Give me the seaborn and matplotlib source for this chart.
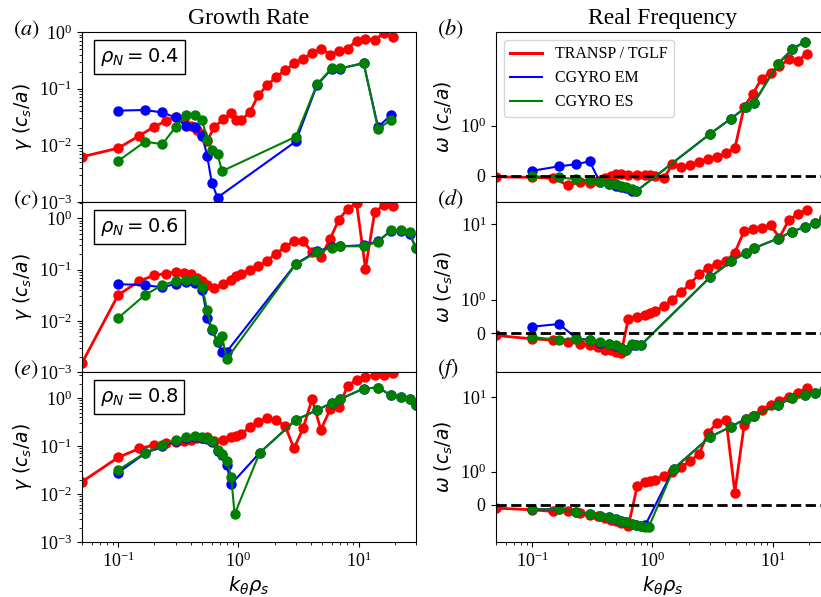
"""
Growth rate / real frequency spectra: TRANSP-TGLF vs CGYRO (EM, ES)
at three radii, rho_N = 0.4, 0.6, 0.8.
"""
import numpy as np
import matplotlib
matplotlib.use("Agg")
import matplotlib.pyplot as plt
from matplotlib.lines import Line2D
from matplotlib.ticker import NullLocator, FixedLocator
import seaborn as sns

nan = np.nan

# ---- wavenumber grids ----
K_TGLF = [0.05, 0.1, 0.15, 0.2, 0.25, 0.3, 0.35, 0.4, 0.45, 0.5, 0.55,
          0.63, 0.75, 0.87, 0.96, 1.06, 1.25, 1.46, 1.73, 2.05, 2.45, 2.9,
          3.45, 4.1, 4.85, 5.8, 6.85, 8.1, 9.6, 11.4, 13.6, 16.1, 19.2]
K_CG_04 = [0.1, 0.167, 0.233, 0.3, 0.367, 0.433, 0.5, 0.55, 0.6, 0.67, 0.73,
           3.0, 4.5, 6.0, 7.0, 11.0, 14.5, 18.5]
K_CG_06 = [0.1, 0.167, 0.233, 0.3, 0.367, 0.433, 0.5, 0.55, 0.6, 0.67, 0.73, 0.8,
           3.0, 4.5, 6.0, 7.0, 11.0, 14.5, 18.5, 22.5, 26.5, 30.0]
K_CG_08 = [0.1, 0.167, 0.233, 0.3, 0.367, 0.433, 0.5, 0.55, 0.6, 0.67, 0.73, 0.8,
           0.87, 0.93, 1.5, 3.0, 4.5, 6.0, 7.0, 11.0, 14.5, 18.5, 22.5, 26.5, 30.0]

# ---- rho_N = 0.4 ----
gam_tglf_04 = [0.0063, 0.0089, 0.0148, 0.0214, 0.027, 0.032, 0.029, 0.022, 0.019, 0.016, 0.012,
               0.021, 0.029, 0.037, 0.028, 0.028, 0.039, 0.076, 0.114, 0.16, 0.21, 0.28,
               0.34, 0.42, 0.51, 0.40, 0.46, 0.51, 0.70, 0.74, 0.72, 0.95, 0.83]
om_tglf_04 = [-0.02, -0.03, -0.05, -0.19, -0.12, -0.15, -0.1, -0.04, 0.0, 0.04, 0.03,
              0.02, 0.02, 0.02, 0.01, 0.0, -0.05, 0.23, 0.18, 0.21, 0.27, 0.33,
              0.38, 0.45, 0.55, 1.47, 1.91, 2.6, 2.92, 3.35, 3.84, 3.73, 4.28]
gam_em_04 = [0.041, 0.042, 0.038, 0.031, 0.022, 0.021, 0.0148, 0.0065, 0.0022, 0.0012, nan,
             0.0117, 0.115, 0.226, 0.226, 0.28, 0.021, 0.034]
gam_es_04 = [0.0053, 0.0116, 0.0105, 0.021, 0.034, 0.035, 0.028, 0.0124, 0.0083, 0.007, 0.0035,
             0.0142, 0.119, 0.232, 0.227, 0.285, 0.0195, 0.028]
om_em_04 = [0.1, 0.19, 0.23, 0.29, -0.13, -0.17, -0.2, -0.22, -0.25, -0.3, -0.31,
            0.83, 1.15, 1.45, 1.58, 3.48, 4.71, 5.5]
om_es_04 = [-0.01, -0.03, -0.07, -0.09, -0.13, -0.16, -0.17, -0.2, -0.23, -0.27, -0.31,
            0.83, 1.15, 1.45, 1.58, 3.48, 4.71, 5.5]

# ---- rho_N = 0.6 ----
gam_tglf_06 = [0.0015, 0.032, 0.06, 0.078, 0.084, 0.09, 0.087, 0.084, 0.07, 0.06, 0.051,
               0.043, 0.053, 0.064, 0.074, 0.084, 0.10, 0.116, 0.148, 0.205, 0.276, 0.363,
               0.363, 0.22, 0.177, 0.4, 0.95, 1.55, 2.0, 0.105, 1.33, 1.8, 1.72]
om_tglf_06 = [-0.06, -0.16, -0.2, -0.26, -0.3, -0.35, -0.4, -0.48, -0.5, -0.55, -0.57,
              0.43, 0.5, 0.56, 0.6, 0.66, 0.82, 1.0, 1.25, 1.61, 2.18, 2.61,
              3.0, 3.26, 4.2, 8.1, 8.5, 8.8, 9.7, 6.6, 11.2, 13.4, 15.5]
gam_em_06 = [0.052, 0.05, 0.045, 0.053, 0.057, 0.055, 0.04, 0.0116, 0.0066, 0.0039, 0.0025, 0.0025,
             0.13, 0.23, 0.276, 0.286, 0.3, 0.36, 0.57, 0.57, 0.5, 0.26]
gam_es_06 = [0.0114, 0.032, 0.05, 0.06, 0.064, 0.062, 0.046, 0.016, 0.0068, 0.0041, 0.005, 0.0018,
             0.127, 0.22, 0.27, 0.286, 0.286, 0.35, 0.59, 0.6, 0.54, 0.26]
om_em_06 = [0.2, 0.28, -0.14, -0.2, -0.27, -0.31, -0.36, -0.42, -0.48, -0.33, -0.34, -0.35,
            1.97, 3.2, 4.2, 4.8, 6.4, 7.9, 9.2, 10.4, 12.0, 13.0]
om_es_06 = [-0.11, -0.19, -0.16, -0.19, -0.26, -0.3, -0.35, -0.42, -0.5, -0.32, -0.34, -0.35,
            1.97, 3.2, 4.2, 4.8, 6.4, 7.9, 9.2, 10.4, 12.0, 13.0]

# ---- rho_N = 0.8 ----
gam_tglf_08 = [0.018, 0.058, 0.089, 0.105, 0.115, 0.123, 0.13, 0.133, 0.145, 0.15, 0.156,
               0.126, 0.133, 0.152, 0.165, 0.18, 0.25, 0.32, 0.38, 0.35, 0.26, 0.089,
               0.234, 0.95, 0.22, 0.58, 0.66, 1.8, 2.4, 2.75, 3.0, 3.1, 3.3]
om_tglf_08 = [-0.1, -0.15, -0.2, -0.19, -0.25, -0.3, -0.35, -0.4, -0.45, -0.5, -0.55,
              -0.64, 0.58, 0.68, 0.72, 0.76, 0.86, 1.0, 1.16, 1.37, 1.74, 3.28,
              4.5, 4.93, 0.37, 4.23, 5.58, 6.7, 7.8, 8.9, 10.1, 11.4, 13.1]
gam_em_08 = [0.028, 0.07, 0.1, 0.128, 0.145, 0.155, 0.15, 0.14, 0.12, 0.08, 0.064, 0.04,
             0.016, nan, 0.072, 0.35, 0.56, 0.8, 0.95, 1.58, 1.66, 1.15, 1.07, 0.98, 0.72]
gam_es_08 = [0.0316, 0.072, 0.105, 0.133, 0.152, 0.162, 0.157, 0.145, 0.126, 0.083, 0.068, 0.049,
             0.023, 0.0038, 0.072, 0.35, 0.56, 0.8, 0.95, 1.58, 1.66, 1.15, 1.07, 0.98, 0.72]
om_em_08 = [-0.13, -0.14, -0.23, -0.27, -0.33, -0.37, -0.43, -0.48, -0.53, -0.57, -0.6, -0.64,
            -0.62, nan, 1.09, 2.9, 4.0, 5.1, 5.58, 7.8, 9.6, 10.6, 11.2, 12.2, 13.0]
om_es_08 = [-0.13, -0.14, -0.23, -0.27, -0.33, -0.37, -0.43, -0.48, -0.53, -0.57, -0.6, -0.64,
            -0.66, -0.68, 1.09, 2.9, 4.0, 5.1, 5.58, 7.8, 9.6, 10.6, 11.2, 12.2, 13.0]

RHO = ["0.4", "0.6", "0.8"]
GAM_YTOP = [1.0, 2.1, 3.5]
OM_YLIM = [(-0.52, 6.7), (-1.16, 19.5), (-1.13, 21.5)]
OM_TICKS = [0, 1, 10]
LETTERS = [("a", "b"), ("c", "d"), ("e", "f")]

ROWS = [
    (K_CG_04, gam_tglf_04, om_tglf_04, gam_em_04, gam_es_04, om_em_04, om_es_04),
    (K_CG_06, gam_tglf_06, om_tglf_06, gam_em_06, gam_es_06, om_em_06, om_es_06),
    (K_CG_08, gam_tglf_08, om_tglf_08, gam_em_08, gam_es_08, om_em_08, om_es_08),
]

RED, BLUE, GREEN = "#ff0000", "#0000ff", "#008000"


def draw(ax, k, v, color, lw):
    k = np.asarray(k, float)
    v = np.asarray(v, float)
    ok = np.isfinite(v)
    sns.lineplot(x=k[ok], y=v[ok], ax=ax, color=color, lw=lw, marker="o",
                 markersize=7.5, markeredgewidth=0, sort=False, estimator=None)


def main():
    plt.rcParams["font.family"] = "serif"
    plt.rcParams["font.serif"] = ["Liberation Serif", "DejaVu Serif"]
    plt.rcParams["mathtext.fontset"] = "dejavusans"

    W, H = 821, 597
    fig = plt.figure(figsize=(W / 100, H / 100), dpi=100)

    axes = []
    ref = None
    for r in range(3):
        top = 32 + 170 * r
        y0 = 1 - (top + 170) / H
        aL = fig.add_axes([82 / W, y0, 334 / W, 170 / H], sharex=ref)
        ref = aL
        aR = fig.add_axes([496 / W, y0, 334 / W, 170 / H], sharex=ref)
        axes.append((aL, aR))

    for r, (aL, aR) in enumerate(axes):
        kcg, g_t, o_t, g_em, g_es, o_em, o_es = ROWS[r]

        draw(aL, K_TGLF, g_t, RED, 2.0)
        draw(aL, kcg, g_em, BLUE, 1.5)
        draw(aL, kcg, g_es, GREEN, 1.5)

        draw(aR, K_TGLF, o_t, RED, 2.0)
        draw(aR, kcg, o_em, BLUE, 1.5)
        draw(aR, kcg, o_es, GREEN, 1.5)
        aR.axhline(0, color="k", ls="--", lw=2)

        aL.set_xscale("log")
        aL.set_yscale("log")
        aL.set_ylim(1e-3, GAM_YTOP[r])
        aR.set_yscale("symlog", linthresh=1, linscale=0.4)
        aR.yaxis.set_major_locator(FixedLocator(OM_TICKS))
        aR.yaxis.set_minor_locator(NullLocator())
        aR.set_ylim(*OM_YLIM[r])

        aL.set_ylabel(r"$\gamma\ (c_s/a)$", fontsize=13.5)
        aR.set_ylabel(r"$\omega\ (c_s/a)$", fontsize=13.5)
        for a in (aL, aR):
            a.set_xlabel("")
            a.tick_params(labelsize=13)

        aL.text(0.054, 0.853, r"$\rho_N = %s$" % RHO[r], transform=aL.transAxes,
                fontsize=14, va="center", ha="left",
                bbox=dict(boxstyle="square,pad=0.3", fc="white", ec="black", lw=1))

        la, lb = LETTERS[r]
        aL.text(-0.207, 1.015, r"$(%s)$" % la, transform=aL.transAxes, fontsize=16,
                va="center", ha="left", math_fontfamily="stix")
        aR.text(-0.177, 1.015, r"$(%s)$" % lb, transform=aR.transAxes, fontsize=16,
                va="center", ha="left", math_fontfamily="stix")

        if r < 2:
            aL.tick_params(labelbottom=False)
            aR.tick_params(labelbottom=False)

    axes[0][0].set_xlim(0.05, 30)
    axes[0][0].set_title("Growth Rate", fontsize=17)
    axes[0][1].set_title("Real Frequency", fontsize=17)
    axes[2][0].set_xlabel(r"$k_\theta\rho_s$", fontsize=14, labelpad=2)
    axes[2][1].set_xlabel(r"$k_\theta\rho_s$", fontsize=14, labelpad=2)

    handles = [Line2D([], [], color=RED, lw=2.2),
               Line2D([], [], color=BLUE, lw=1.5),
               Line2D([], [], color=GREEN, lw=1.5)]
    axes[0][1].legend(handles, ["TRANSP / TGLF", "CGYRO EM", "CGYRO ES"],
                      loc="upper left", fontsize=11.5)

    fig.savefig("out.png", dpi=100)
    plt.close(fig)


if __name__ == "__main__":
    main()
